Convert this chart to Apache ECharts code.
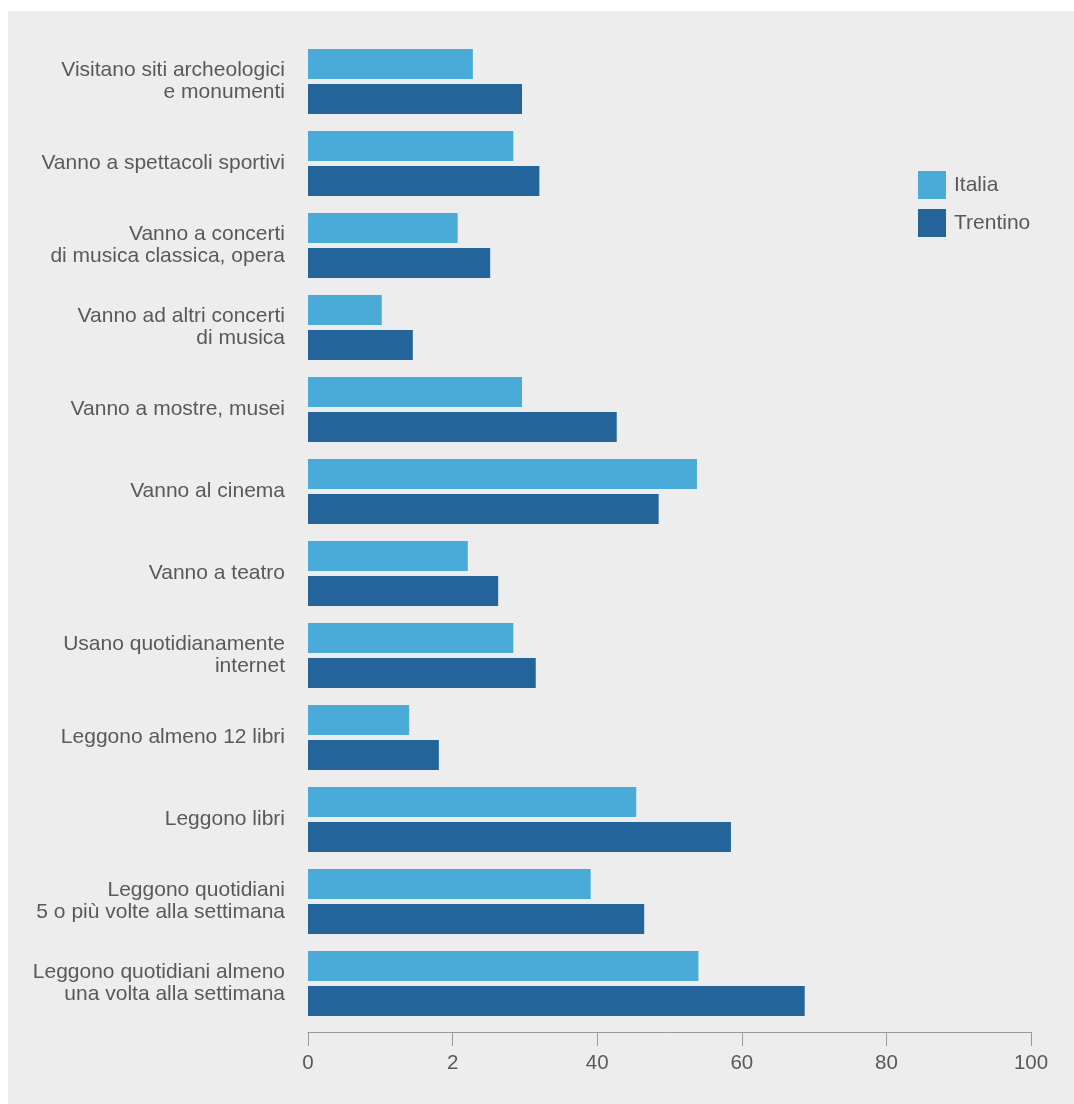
<!DOCTYPE html>
<html>
<head>
<meta charset="utf-8">
<script src="https://cdn.jsdelivr.net/npm/echarts@6/dist/echarts.min.js"></script>
<style>
html,body{margin:0;padding:0;background:#ffffff;}
#panel{position:absolute;left:8px;top:11px;width:1066px;height:1093px;background:#ededed;}
#chart{position:absolute;left:0;top:0;width:1074px;height:1104px;}
</style>
</head>
<body>
<div id="panel"></div>
<div id="chart"></div>
<script>
const categories = [
  "Visitano siti archeologici\ne monumenti",
  "Vanno a spettacoli sportivi",
  "Vanno a concerti\ndi musica classica, opera",
  "Vanno ad altri concerti\ndi musica",
  "Vanno a mostre, musei",
  "Vanno al cinema",
  "Vanno a teatro",
  "Usano quotidianamente\ninternet",
  "Leggono almeno 12 libri",
  "Leggono libri",
  "Leggono quotidiani\n5 o più volte alla settimana",
  "Leggono quotidiani almeno\nuna volta alla settimana"
];
const italia =   [22.8, 28.4, 20.7, 10.2, 29.6, 53.8, 22.1, 28.4, 14.0, 45.4, 39.1, 54.0];
const trentino = [29.6, 32.0, 25.2, 14.5, 42.7, 48.5, 26.3, 31.5, 18.1, 58.5, 46.5, 68.7];
const tickLabels = ["0", "2", "40", "60", "80", "100"];
const seriesNames = ["Italia", "Trentino"];

const FONT = '"Liberation Sans", Arial, sans-serif';
const chart = echarts.init(document.getElementById('chart'), null, {renderer: 'canvas'});
chart.setOption({
  backgroundColor: 'transparent',
  animation: false,
  textStyle: {fontFamily: FONT},
  grid: {left: 308, right: 43, top: 40.5, bottom: 79.5, containLabel: false},
  legend: {
    orient: 'vertical',
    left: 913, top: 166,
    itemWidth: 28, itemHeight: 28, itemGap: 10,
    icon: 'rect',
    data: seriesNames,
    textStyle: {fontSize: 21, color: '#595959', fontFamily: FONT, padding: [4, 0, 0, 3]}
  },
  xAxis: {
    type: 'value', min: 0, max: 100, interval: 20,
    offset: 7.5,
    axisLine: {show: true, lineStyle: {color: '#9a9a9a', width: 1}},
    axisTick: {show: true, inside: false, length: 14, lineStyle: {color: '#9a9a9a', width: 1}},
    splitLine: {show: false},
    axisLabel: {
      fontSize: 20.5, color: '#595959', fontFamily: FONT, margin: 21,
      formatter: function (v) { return tickLabels[Math.round(v / 20)]; }
    }
  },
  yAxis: {
    type: 'category', data: categories, inverse: true,
    axisLine: {show: false}, axisTick: {show: false}, splitLine: {show: false},
    axisLabel: {fontSize: 21, color: '#595959', fontFamily: FONT, margin: 23, lineHeight: 22,
      align: 'right', padding: [4, 0, 0, 0]}
  },
  series: [
    {name: seriesNames[0], type: 'bar', data: italia, barWidth: 30, barGap: '16.67%',
     itemStyle: {color: '#4aabd8'}},
    {name: seriesNames[1], type: 'bar', data: trentino, barWidth: 30, barGap: '16.67%',
     itemStyle: {color: '#23659b'}}
  ]
});
</script>
</body>
</html>
